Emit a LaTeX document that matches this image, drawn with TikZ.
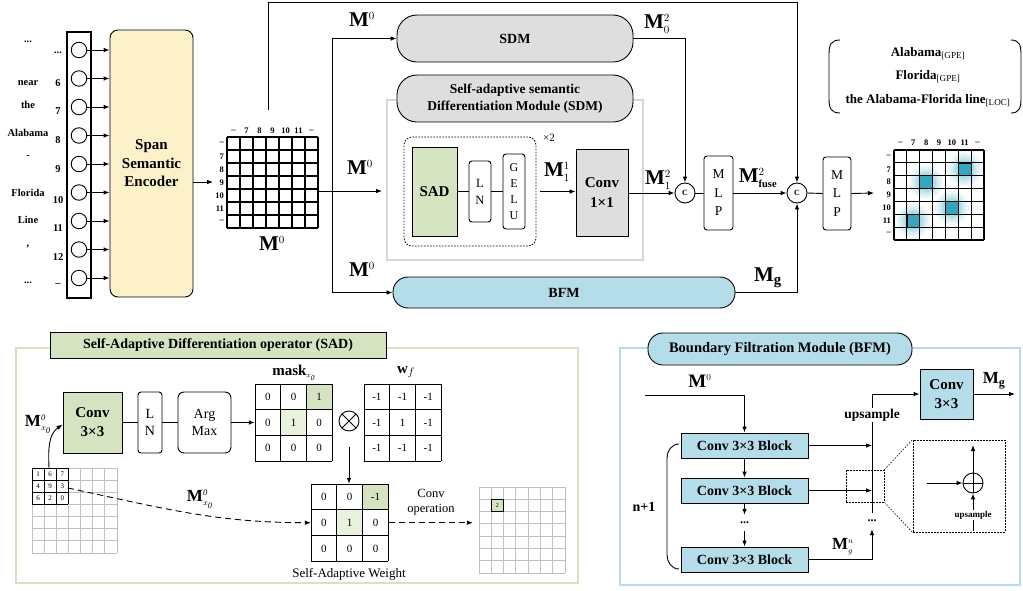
\documentclass[tikz,border=0pt]{standalone}
\usepackage{fontspec}
\setmainfont{Liberation Serif}
\usetikzlibrary{arrows.meta,calc}

\definecolor{sage}{HTML}{D5E3C1}
\definecolor{palegreen}{HTML}{E9F1DF}
\definecolor{skyblue}{HTML}{B5DDE9}
\definecolor{pillgray}{HTML}{DEDEDE}
\definecolor{cream}{HTML}{FCF1C9}
\definecolor{tealcell}{HTML}{36A6BF}
\definecolor{framegray}{HTML}{D8D8D8}

\newcommand{\setfs}[2]{\fontsize{#1}{#2}\selectfont}
% n x n grid of lines: x0, y0, n, cell, style
\newcommand{\cellgrid}[5]{%
  \foreach \k in {0,...,#3}{%
    \draw[#5] ({#1+\k*#4},#2) -- ({#1+\k*#4},{#2+#3*#4});
    \draw[#5] (#1,{#2+\k*#4}) -- ({#1+#3*#4},{#2+\k*#4});
  }}
% 3 x 3 entries: x0, y0, cell, values, font, name prefix
\newcommand{\valgrid}[6]{%
  \foreach \v [count=\k from 0] in {#4}{%
    \pgfmathtruncatemacro\cc{mod(\k,3)}%
    \pgfmathtruncatemacro\rr{\k/3}%
    \node[font=#5, inner sep=0pt] (#6\k) at ({#1+(\cc+0.5)*#3},{#2+(\rr+0.5)*#3}) {\v};
  }}
\newcommand{\Ms}[2]{$\mathbf{M}^{\scriptscriptstyle #1}_{\scriptscriptstyle #2}$}
\newcommand{\Mx}{$\mathbf{M}^{\scriptscriptstyle\mathit{0}}_{\scriptscriptstyle x_{\mathit{0}}}$}

\tikzset{
  box/.style={draw, line width=0.9pt, inner sep=0pt, align=center},
  pill/.style={box, rounded corners=20pt},
  vbox/.style={box, rounded corners=3pt, fill=white, font=\setfs{12.5}{17}},
  mlab/.style={font=\setfs{21}{21}, inner sep=0pt},
  slab/.style={font=\setfs{17}{17}, inner sep=0pt},
  conn/.style={line width=0.9pt},
  arr/.style={conn, -{Latex[length=6pt,width=4.6pt]}},
  cnode/.style={circle, draw, line width=0.9pt, fill=white, minimum size=20pt, inner sep=0pt, font=\bfseries\setfs{8}{8}},
  dotbox/.style={draw, line width=0.8pt, dash pattern=on 1.6pt off 1.4pt},
  word/.style={font=\bfseries\setfs{10.5}{10.5}, inner sep=0pt},
  tick/.style={font=\bfseries\setfs{8.5}{8.5}, inner sep=0pt},
}

\begin{document}
\begin{tikzpicture}[x=1pt, y=-1pt]
\useasboundingbox (0,0) rectangle (1023,590);

% ---------------- token column and encoder ----------------
\node[draw, line width=1.1pt, minimum width=24pt, minimum height=266pt, inner sep=0pt] (col) at (79,165) {};
\foreach \i in {0,...,8}
  \node[circle, draw, line width=0.9pt, fill=white, minimum size=15.5pt, inner sep=0pt] (tok\i) at (79,{50+28.5*\i}) {};
\node[box, fill=cream, rounded corners=8pt, minimum width=83pt, minimum height=267pt,
      font=\bfseries\setfs{15}{18.5}] (enc) at (151.5,163.5) {Span\\Semantic\\Encoder};
\foreach \i in {0,...,8}
  \draw[arr] (tok\i.east) -- (tok\i -| enc.west);

\foreach \w/\yy [count=\j] in {{...}/42, near/83, the/105, Alabama/133, -/157, Florida/193, Line/220, {,}/247, {...}/283}
  \node[word] (word\j) at (28,\yy) {\w};
\foreach \n/\yy [count=\j] in {{...}/53, 6/83, 7/111, 8/140, 9/169, 10/200, 11/228, 12/257, {–}/285}
  \node[word] (idx\j) at (58,\yy) {\n};

% ---------------- span matrix M0 ----------------
\cellgrid{227}{137}{7}{13}{line width=1.3pt}
\node[minimum size=91pt, inner sep=0pt] (m0) at (272.5,182.5) {};
\foreach \t [count=\k from 0] in {–,7,8,9,10,11,–}{
  \node[tick] (m0c\k) at ({233.5+13*\k},131) {\t};
  \node[tick, anchor=east] (m0r\k) at (224,{143.5+13*\k}) {\t};
}
\node[mlab] (m0lab) at (272,246) {\Ms{0}{}};
\coordinate (m0in) at (213,182);
\draw[arr] (enc.east |- m0in) -- (m0in);

% ---------------- SDM branch ----------------
\node[draw=framegray, line width=2pt, minimum width=256pt, minimum height=160pt, inner sep=0pt] (sdmmod) at (515,180) {};
\node[pill, fill=pillgray, minimum width=236pt, minimum height=47pt, font=\bfseries\setfs{14}{14}] (sdm) at (515,38.5) {SDM};
\node[pill, fill=pillgray, minimum width=236pt, minimum height=47pt, font=\bfseries\setfs{13.5}{17}] (sdmtitle) at (515,98.5)
  {Self-adaptive semantic\\Differentiation Module (SDM)};

\node[dotbox, rounded corners=8pt, minimum width=132pt, minimum height=109pt, inner sep=0pt] (rep) at (470,191.5) {};
\node[font=\setfs{11}{11}, inner sep=0pt] (rept) at (549,138) {×2};
\node[box, fill=sage, minimum width=45pt, minimum height=89pt, font=\bfseries\setfs{15}{15}] (sad) at (434.5,191.5) {SAD};
\node[vbox, minimum width=22pt, minimum height=61pt] (ln) at (480,191.5) {L\\N};
\node[vbox, minimum width=22pt, minimum height=75pt, font=\setfs{12}{16}] (gelu) at (514,191.5) {G\\E\\L\\U};
\draw[conn] (sad) -- (ln);
\draw[conn] (ln) -- (gelu);
\node[box, fill=pillgray, minimum width=52pt, minimum height=87pt, font=\bfseries\setfs{15}{20}] (conv1) at (602,192.5) {Conv\\1×1};
\draw[arr] ($(rep.east)+(4,0)$) -- (conv1.west |- rep.east);
\node[mlab] (l11) at (557,172) {\Ms{1}{1}};

\node[pill, fill=skyblue, rounded corners=15pt, minimum width=342pt, minimum height=31pt, font=\bfseries\setfs{14}{14}] (bfm) at (564,292.5) {BFM};

\coordinate (split) at (332,191);
\draw[conn] (m0.east |- split) -- (split);
\draw[arr, shorten >=4pt] (split) -- (sdmmod.west |- split);
\draw[arr] (split) |- (sdm.west);
\draw[arr] (split) |- (bfm.west);
\node[mlab] (ltop) at (362,22) {\Ms{0}{}};
\node[mlab] (lmid) at (360,170) {\Ms{0}{}};
\node[mlab] (lbot) at (362,272) {\Ms{0}{}};

% ---------------- fusion ----------------
\node[cnode] (cc1) at (685,193) {C};
\node[cnode] (cc2) at (797,193) {C};
\node[vbox, minimum width=29pt, minimum height=74pt, font=\setfs{13.5}{18.5}] (mlp1) at (718.5,193) {M\\L\\P};
\node[vbox, minimum width=28pt, minimum height=73pt, font=\setfs{13.5}{18.5}] (mlp2) at (837,193.5) {M\\L\\P};

\draw[arr] (conv1.east |- cc1) -- (cc1.west);
\draw[arr] (sdm.east) -| (cc1.north);
\draw[conn] (cc1.east) -- (mlp1.west);
\draw[arr] (mlp1.east) -- (cc2.west);
\draw[arr] (bfm.east) -| (cc2.south);
\draw[conn] (cc2.east) -- (mlp2.west);
\coordinate (outtip) at (874,193);
\draw[arr] (mlp2.east) -- (outtip);
\coordinate (skip) at (268,110);
\coordinate (skiptop) at (268,2);
\draw[arr] (skip) -- (skiptop) -| (cc2.north);

\node[mlab] (l02) at (657,24) {\Ms{2}{0}};
\node[mlab] (l12) at (658,180) {\Ms{2}{1}};
\node[mlab] (lfuse) at (758,178) {$\mathbf{M}^{\scriptscriptstyle 2}_{\scriptscriptstyle\mathbf{fuse}}$};
\node[mlab] (lg) at (768,278) {$\mathbf{M}_{\mathbf{g}}$};

% ---------------- output span matrix ----------------
\foreach \c/\r in {5/1,2/2,4/4,1/5}{
  \foreach \rad/\op in {17/0.08,14.5/0.1,12/0.12,10/0.15}
    \fill[tealcell, opacity=\op] ({894+(\c+0.5)*12.86},{150+(\r+0.5)*12.86}) circle (\rad);
}
\cellgrid{894}{150}{7}{12.86}{line width=1.1pt}
\foreach \c/\r in {5/1,2/2,4/4,1/5}
  \fill[tealcell, draw=black, line width=0.6pt] ({894+\c*12.86},{150+\r*12.86}) rectangle ++(12.86,12.86);
\node[minimum size=90pt, inner sep=0pt] (outm) at (939,195) {};
\foreach \t [count=\k from 0] in {–,7,8,9,10,11,–}{
  \node[tick] (oc\k) at ({900.4+12.86*\k},143) {\t};
  \node[tick, anchor=east] (or\k) at (891,{156.4+12.86*\k}) {\t};
}

% entity set
\draw[line width=0.9pt] (840,40) .. controls (831,40) and (829,45) .. (829,54) -- (829,99) .. controls (829,108) and (831,113) .. (840,113);
\draw[line width=0.9pt] (1011,40) .. controls (1019,40) and (1021,45) .. (1021,54) -- (1021,99) .. controls (1021,108) and (1019,113) .. (1011,113);
\node[align=center, font=\bfseries\setfs{13}{23.5}, inner sep=0pt] (ents) at (928,77)
  {Alabama\textsubscript{\mdseries[GPE]}\\Florida\textsubscript{\mdseries[GPE]}\\the Alabama-Florida line\textsubscript{\mdseries[LOC]}};

% ---------------- SAD panel ----------------
\node[draw=sage, line width=2.2pt, minimum width=562pt, minimum height=235pt, inner sep=0pt] (sadframe) at (297,465.5) {};
\node[box, fill=sage, minimum width=336pt, minimum height=26pt, font=\bfseries\setfs{14}{14}] (sadtitle) at (218,345)
  {Self-Adaptive Differentiation operator (SAD)};
\node[box, fill=sage, minimum width=59pt, minimum height=61pt, font=\bfseries\setfs{15}{19}] (conv3) at (92.5,422.5) {Conv\\3×3};
\node[vbox, minimum width=24pt, minimum height=61pt, font=\setfs{14}{17}] (ln2) at (150,422.5) {L\\N};
\node[box, rounded corners=6pt, minimum width=53pt, minimum height=61pt, font=\setfs{14}{17}] (argmax) at (204.5,422.5) {Arg\\Max};
\draw[conn] (conv3) -- (ln2);
\draw[conn] (ln2) -- (argmax);

% mask
\fill[sage] ({255+2*25.67},384) rectangle ++(25.67,25.67);
\fill[palegreen] ({255+25.67},{384+25.67}) rectangle ++(25.67,25.67);
\cellgrid{255}{384}{3}{25.67}{line width=0.9pt}
\valgrid{255}{384}{25.67}{0,0,1,0,1,0,0,0,0}{\setfs{11}{11}}{mk}
\node[minimum size=77pt, inner sep=0pt] (mask) at (293.5,422.5) {};
\node[font=\setfs{15}{15}, inner sep=0pt] (masklab) at (294,373) {\textbf{mask}$_{\scriptscriptstyle x_{\mathit{0}}}$};
\draw[arr] (argmax.east) -- (mask.west);

% w_f
\cellgrid{364}{384}{3}{25.67}{line width=0.9pt}
\valgrid{364}{384}{25.67}{-1,-1,-1,-1,1,-1,-1,-1,-1}{\setfs{11}{11}}{wf}
\node[font=\setfs{15}{15}, inner sep=0pt] (wflab) at (406,372) {$\mathbf{w}_{\scriptstyle f}$};

\node[circle, draw, line width=0.9pt, minimum size=20pt, inner sep=0pt,
      path picture={\draw[line width=0.9pt] (path picture bounding box.north west) -- (path picture bounding box.south east)
                    (path picture bounding box.north east) -- (path picture bounding box.south west);}] (otimes) at (349,421) {};

% self-adaptive weight
\fill[sage] ({311+2*25.8},484) rectangle ++(25.8,25.8);
\fill[palegreen] ({311+25.8},{484+25.8}) rectangle ++(25.8,25.8);
\cellgrid{311}{484}{3}{25.8}{line width=0.9pt}
\valgrid{311}{484}{25.8}{0,0,-1,0,1,0,0,0,0}{\setfs{11}{11}}{sw}
\node[minimum size=77.4pt, inner sep=0pt] (saw) at (349.7,522.7) {};
\node[font=\setfs{13}{13}, inner sep=0pt] (sawlab) at (349,574) {Self-Adaptive Weight};
\coordinate (mulout) at (349,447);
\draw[arr] (mulout) -- (saw.north -| mulout);

% output map of the convolution
\cellgrid{479}{487}{7}{12.29}{gray!50, line width=0.9pt}
\node[draw, line width=0.8pt, fill=sage, minimum size=12.3pt, inner sep=0pt, font=\setfs{6}{6}] (two) at ({479+1.5*12.29},{487+1.5*12.29}) {2};
\node[minimum size=86pt, inner sep=0pt] (smap) at (522,529.5) {};
\node[align=center, font=\setfs{12.5}{15.5}, inner sep=0pt] (convop) at (431,502) {Conv\\operation};
\draw[arr, dashed, dash pattern=on 6pt off 4pt, shorten >=6pt] (saw.east) -- (saw.east -| smap.west);

% input map
\cellgrid{32}{468}{7}{12.14}{gray!50, line width=0.9pt}
\cellgrid{32}{468}{3}{12.14}{line width=0.9pt}
\valgrid{32}{468}{12.14}{1,6,7,4,9,3,6,2,0}{\setfs{7}{7}}{in}
\coordinate (inA) at (49,468);
\coordinate (inB) at (68,488);
\draw[arr] (inA) to[out=92,in=215] ($(conv3.west)+(0,2)$);
\draw[arr, dash pattern=on 6pt off 4pt] (inB) to[out=-12,in=180] (saw.west);
\node[slab] (lx1) at (38,424) {\Mx};
\node[slab] (lx2) at (200,499) {\Mx};

% ---------------- BFM panel ----------------
\node[draw=skyblue, line width=2.2pt, minimum width=400pt, minimum height=237pt, inner sep=0pt] (bfmframe) at (820,466.5) {};
\node[pill, fill=skyblue, rounded corners=15pt, minimum width=264pt, minimum height=32pt, font=\bfseries\setfs{14.5}{14.5}] (bfmtitle) at (780,349)
  {Boundary Filtration Module (BFM)};
\node[box, fill=skyblue, minimum width=127pt, minimum height=25pt, font=\bfseries\setfs{14}{14}] (blk1) at (744.5,445.5) {Conv 3×3 Block};
\node[box, fill=skyblue, minimum width=127pt, minimum height=25pt, font=\bfseries\setfs{14}{14}] (blk2) at (744.5,490.5) {Conv 3×3 Block};
\node[box, fill=skyblue, minimum width=127pt, minimum height=25pt, font=\bfseries\setfs{14}{14}] (blk3) at (744.5,559.5) {Conv 3×3 Block};
\node[font=\bfseries\setfs{12}{12}, inner sep=0pt, minimum height=12pt] (bdots) at (744.5,523) {...};
\coordinate (bin) at (645,395);
\draw[arr] (bin) -| (blk1.north);
\draw[arr] (blk1.south) -- (blk2.north);
\draw[arr] (blk2.south) -- ($(bdots.north)+(0,-2)$);
\draw[arr] ($(bdots.south)+(0,2)$) -- (blk3.north);
\node[font=\setfs{19}{19}, inner sep=0pt] (lbm0) at (700,383) {\Ms{0}{}};
\draw[line width=0.9pt] (679,444) to[out=180,in=90] (667,458) -- (667,555) to[out=-90,in=180] (679,569);
\node[font=\bfseries\setfs{14}{14}, inner sep=0pt] (nplus) at (644,507) {n+1};

\node[box, fill=skyblue, minimum width=53pt, minimum height=50pt, font=\bfseries\setfs{15}{19}] (conv3b) at (946.5,394) {Conv\\3×3};
\coordinate (upbot) at (872,513);
\draw[arr] (upbot) |- (conv3b.west);
\draw[arr] (blk1.east) -- (blk1.east -| upbot);
\draw[arr] (blk2.east) -- (blk2.east -| upbot);
\node[fill=white, font=\bfseries\setfs{13.5}{13.5}, inner sep=1pt] (ups) at (872,415) {upsample};
\node[font=\bfseries\setfs{12}{12}, inner sep=0pt, minimum height=10pt] (vdots) at (872,521) {...};
\draw[arr] (blk3.east) -| ($(vdots.south)+(0,3)$);
\node[font=\setfs{17}{17}, inner sep=0pt] (lgn) at (843,547) {\Ms{n}{g}};
\coordinate (mgout) at (1015,394);
\draw[arr] (conv3b.east) -- (mgout);
\node[font=\setfs{17}{17}, inner sep=0pt] (lmg) at (994,381) {$\mathbf{M}_{\mathbf{g}}$};

% magnified adder
\node[dotbox, minimum width=38pt, minimum height=32pt, inner sep=0pt] (focus) at (865,486) {};
\node[dotbox, minimum width=92pt, minimum height=92pt, inner sep=0pt] (zoombox) at (959,486) {};
\draw[line width=0.6pt, dash pattern=on 1.5pt off 1.5pt] (focus.north east) -- (zoombox.north west);
\draw[line width=0.6pt, dash pattern=on 1.5pt off 1.5pt] (focus.south east) -- (zoombox.south west);
\node[circle, draw, line width=0.9pt, minimum size=20pt, inner sep=0pt,
      path picture={\draw[line width=0.9pt] (path picture bounding box.north) -- (path picture bounding box.south)
                    (path picture bounding box.west) -- (path picture bounding box.east);}] (oplus) at (973,483) {};
\coordinate (pin) at (927,483);
\coordinate (pout) at (973,445);
\coordinate (pup) at (973,531);
\draw[arr] (pin) -- (oplus.west);
\draw[arr] (oplus.north) -- (pout);
\draw[arr] (pup) -- (oplus.south);
\node[fill=white, font=\bfseries\setfs{9}{9}, inner sep=1pt] (ups2) at (973,515) {upsample};
\end{tikzpicture}
\end{document}
